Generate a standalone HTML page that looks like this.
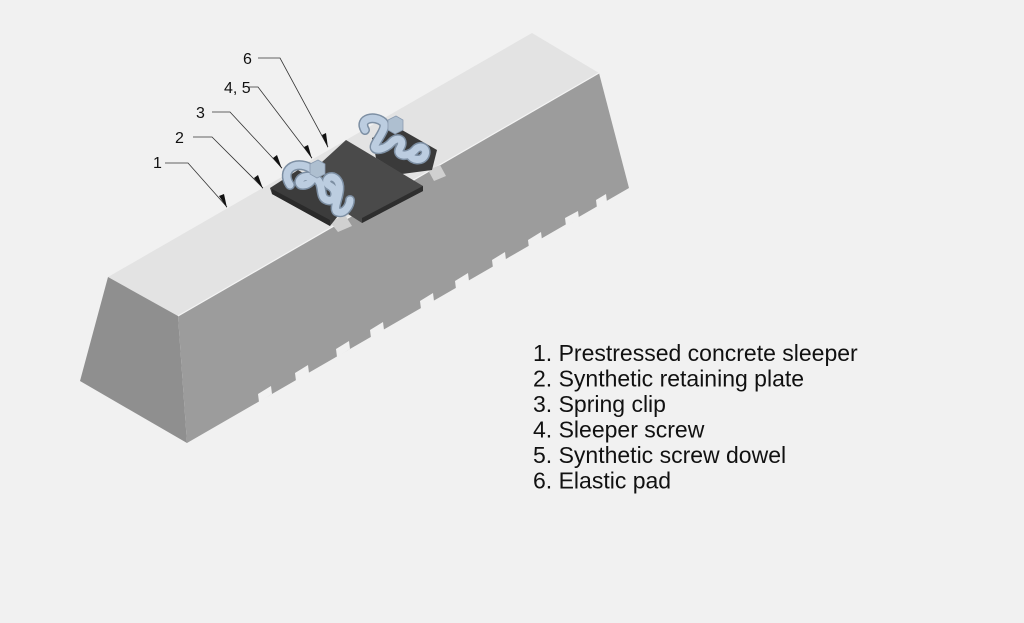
<!DOCTYPE html>
<html><head><meta charset="utf-8"><style>
html,body{margin:0;padding:0;background:#f1f1f1;}
svg{display:block}
text{font-family:"Liberation Sans",Arial,sans-serif;fill:#111}
</style></head><body>
<svg width="1024" height="623" viewBox="0 0 1024 623" xmlns="http://www.w3.org/2000/svg">
<rect width="1024" height="623" fill="#f1f1f1"/>
<!-- sleeper -->
<polygon points="108,277 532,33 599,73 178,316" fill="#e3e3e3"/>
<polygon points="108,277 178,316 187,443 80,381" fill="#8f8f8f"/>
<polygon points="178,316 599,73 629,188 187,443" fill="#9c9c9c"/>
<!-- notches on bottom edge -->
<g fill="#f1f1f1">
<polygon points="596,200 606,194 607,202 597,208"/>
<polygon points="565,218 578,211 579,219 566,226"/>
<polygon points="528,240 541,232 542,240 529,248"/>
<polygon points="492,260 505,252 506,260 493,268"/>
<polygon points="455,281 468,273 469,281 456,289"/>
<polygon points="420,301 433,293 434,301 421,309"/>
<polygon points="370,330 383,322 384,330 371,338"/>
<polygon points="336,349 349,341 350,349 337,357"/>
<polygon points="295,373 308,365 309,373 296,381"/>
<polygon points="258,394 271,386 272,394 259,402"/>
</g>
<line x1="178" y1="316" x2="599" y2="73" stroke="#f4f4f4" stroke-width="1.2"/>
<!-- rail seat grooves -->
<polygon points="330,222 345,215 352,226 338,232" fill="#d0d0d0"/>
<polygon points="428,170 440,165 446,176 434,181" fill="#d0d0d0"/>
<!-- right retaining plate -->
<polygon points="372,138 395,126 437,150 432,170 402,174 376,158" fill="#3a3a3a"/>
<!-- elastic pad -->
<polygon points="346,140 423,186 423,191 362,223 348,214 298,184" fill="#4a4a4a"/>
<polygon points="423,186 423,191 362,223 362,218" fill="#2e2e2e"/>
<!-- left retaining plate -->
<polygon points="270,188 298,170 342,196 345,207 330,226 272,194" fill="#3c3c3c"/>
<polygon points="272,189 330,220 330,226 272,194" fill="#2a2a2a"/>
<!-- clips -->
<g fill="none" stroke-linecap="round" stroke-linejoin="round">
<g stroke="#7d8fa3" stroke-width="10">
<path d="M290,185 C280,170 295,160 310,168 C318,173 312,185 303,185 C295,185 300,172 315,178 C325,183 318,197 327,200 C336,203 338,190 330,186 C322,182 330,172 337,180 C345,190 330,210 338,212 C345,214 350,205 350,200"/>
<path d="M365,130 C358,118 375,115 383,122 C388,127 378,138 375,145 C372,152 385,150 392,142 C398,136 405,140 400,148 C395,156 408,158 415,150 C420,144 428,148 425,155 C422,162 412,160 410,155"/>
</g>
<g stroke="#bccde0" stroke-width="7">
<path d="M290,185 C280,170 295,160 310,168 C318,173 312,185 303,185 C295,185 300,172 315,178 C325,183 318,197 327,200 C336,203 338,190 330,186 C322,182 330,172 337,180 C345,190 330,210 338,212 C345,214 350,205 350,200"/>
<path d="M365,130 C358,118 375,115 383,122 C388,127 378,138 375,145 C372,152 385,150 392,142 C398,136 405,140 400,148 C395,156 408,158 415,150 C420,144 428,148 425,155 C422,162 412,160 410,155"/>
</g>
</g>
<!-- screw heads -->
<polygon points="310,164 318,160 325,164 325,174 317,178 310,174" fill="#aebfd0" stroke="#8a9bb0" stroke-width="0.8"/>
<polygon points="388,120 396,116 403,120 403,130 395,134 388,130" fill="#aebfd0" stroke="#8a9bb0" stroke-width="0.8"/>
<!-- leader lines -->
<g stroke="#333" stroke-width="0.8" fill="none">
<polyline points="165,163 188,163 227,207"/>
<polyline points="193,137 212,137 263,188"/>
<polyline points="212,112 230,112 282,168"/>
<polyline points="249,87 258,87 312,158"/>
<polyline points="258,58 280,58 328,147"/>
</g>
<g fill="#111">
<polygon points="227,208 219,196 224,194"/>
<polygon points="263,189 254,178 258,175"/>
<polygon points="282,169 273,158 277,155"/>
<polygon points="312,159 304,147 308,145"/>
<polygon points="328,148 322,135 326,133"/>
</g>
<g font-size="16" style="fill:#333">
<text x="153" y="168">1</text>
<text x="175" y="143">2</text>
<text x="196" y="118">3</text>
<text x="224" y="93">4, 5</text>
<text x="243" y="64">6</text>
</g>
<!-- legend -->
<g font-size="23">
<text x="533" y="361">1. Prestressed concrete sleeper</text>
<text x="533" y="386.5">2. Synthetic retaining plate</text>
<text x="533" y="412">3. Spring clip</text>
<text x="533" y="437.5">4. Sleeper screw</text>
<text x="533" y="463">5. Synthetic screw dowel</text>
<text x="533" y="488.5">6. Elastic pad</text>
</g>
</svg>
</body></html>
